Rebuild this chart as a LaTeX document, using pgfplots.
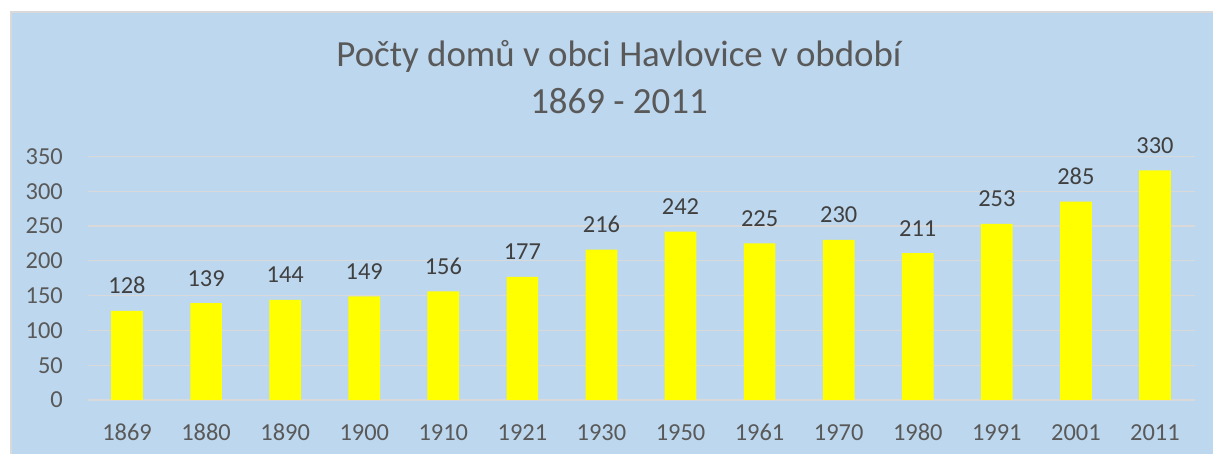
\documentclass[border=0pt]{standalone}
\usepackage{fontspec}
\setmainfont{Carlito}
\usepackage{pgfplots}
\pgfplotsset{compat=1.18}
\definecolor{bgblue}{HTML}{BDD7EE}
\definecolor{gridgray}{HTML}{D9D9D9}
\definecolor{ticktext}{HTML}{595959}
\definecolor{labeltext}{HTML}{404040}
\definecolor{baryellow}{HTML}{FFFF00}
\begin{document}
\begin{tikzpicture}[x=1bp,y=1bp]
\fill[white] (0,0) rectangle (1213,454);
\fill[bgblue] (11,0) rectangle (1213,442);
\draw[gridgray,line width=1.5bp] (11,0) -- (11,442) -- (1213,442);
\node[anchor=base,text=ticktext,font=\fontsize{37}{44}\selectfont,inner sep=0pt] at (619,387.3) {Počty domů v obci Havlovice v období};
\node[anchor=base,text=ticktext,font=\fontsize{37}{44}\selectfont,inner sep=0pt] at (619,340.7) {1869 - 2011};
\begin{axis}[
  at={(87.5bp,54bp)}, anchor=south west,
  scale only axis,
  width=1107bp, height=243.6bp,
  xmin=-0.5, xmax=13.5, ymin=0, ymax=350,
  axis line style={draw=none},
  major tick length=0pt,
  xtick={0,...,13},
  xticklabels={1869,1880,1890,1900,1910,1921,1930,1950,1961,1970,1980,1991,2001,2011},
  ytick={0,50,...,350},
  ymajorgrids,
  grid style={gridgray,line width=1.2bp},
  /pgf/number format/assume math mode=true,
  ticklabel style={text=ticktext,font=\fontsize{24.5}{29}\selectfont,inner sep=0pt},
  yticklabel style={anchor=east,xshift=-24.5bp},
  xticklabel style={anchor=north,yshift=-24bp},
  ybar, bar width=31.7bp,
  nodes near coords,
  every node near coord/.append style={anchor=base,inner sep=0pt,yshift=17bp,text=labeltext,font=\fontsize{24.5}{29}\selectfont},
]
\addplot[fill=baryellow,draw=none] coordinates {
(0,128) (1,139) (2,144) (3,149) (4,156) (5,177) (6,216)
(7,242) (8,225) (9,230) (10,211) (11,253) (12,285) (13,330)};
\end{axis}
\pgfresetboundingbox
\path[use as bounding box] (0,0) rectangle (1213,454);
\end{tikzpicture}
\end{document}
